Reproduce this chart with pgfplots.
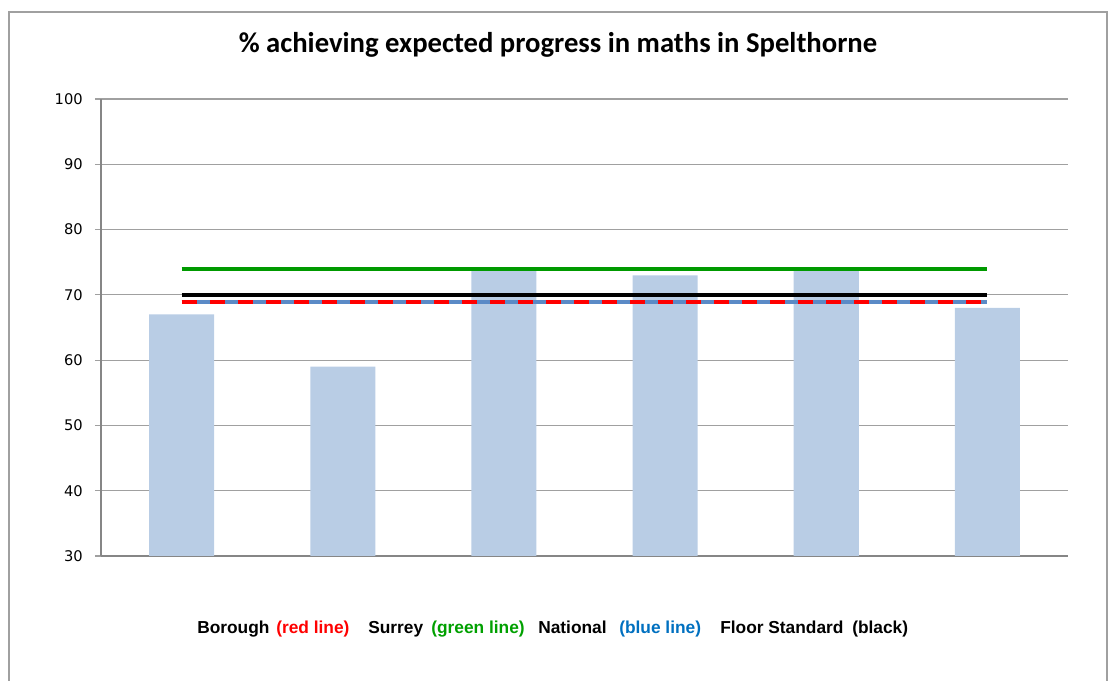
\documentclass[border=0pt]{standalone}
\usepackage{pgfplots}
\pgfplotsset{compat=1.18}
\usepackage{fontspec}
\setmainfont{Liberation Sans}
\newfontfamily\titlefont{Carlito}
\newfontfamily\tickfont{DejaVu Sans}
\definecolor{barblue}{HTML}{B9CDE5}
\definecolor{xlgreen}{HTML}{009A00}
\definecolor{xlblue}{HTML}{5B8AC6}
\definecolor{xlred}{HTML}{FF0000}
\definecolor{legblue}{HTML}{0070C0}
\definecolor{leggreen}{HTML}{00A000}
\definecolor{gridgray}{HTML}{A0A0A0}
\definecolor{axgray}{HTML}{868686}
\begin{document}
\begin{tikzpicture}
\useasboundingbox (0,0) rectangle (831pt,510.75pt);
\draw[gridgray, line width=1.2pt] (6.75pt,0) -- (6.75pt,501.75pt) -- (830.25pt,501.75pt) -- (830.25pt,0);
\begin{axis}[
  at={(75.75pt,93.75pt)}, anchor=south west,
  scale only axis,
  width=725.25pt, height=342.75pt,
  xmin=0.5, xmax=6.5,
  ymin=30, ymax=100,
  ytick={30,40,...,100},
  xtick=\empty,
  axis x line*=bottom, axis y line*=left,
  axis line style={axgray, line width=1.2pt},
  ymajorgrids,
  major grid style={gridgray, line width=0.9pt},
  tick align=outside,
  major tick length=4.5pt,
  ytick style={gridgray, line width=0.9pt},
  /pgf/number format/assume math mode=true,
  yticklabel style={font=\tickfont\fontsize{11}{12}\selectfont, anchor=east, inner sep=0pt, xshift=-9pt},
  clip=false,
]
\addplot[ybar, bar width=48.75pt, fill=barblue, draw=none] coordinates {(1,67) (2,59) (3,74) (4,73) (5,74) (6,68)};
\addplot[xlgreen, line width=3pt] coordinates {(1,74) (2,74) (3,74) (4,74) (5,74) (6,74)};
\addplot[black, line width=3pt] coordinates {(1,70) (2,70) (3,70) (4,70) (5,70) (6,70)};
\addplot[xlblue, line width=2.4pt] coordinates {(1,68.9) (2,68.9) (3,68.9) (4,68.9) (5,68.9) (6,68.9)};
\addplot[xlred, line width=2.4pt, dash pattern=on 11.25pt off 9.75pt] coordinates {(1,68.9) (2,68.9) (3,68.9) (4,68.9) (5,68.9) (6,68.9)};
\end{axis}
\node[font=\titlefont\bfseries\fontsize{21.5}{25}\selectfont] at (418.5pt,477pt) {\% achieving expected progress in maths in Spelthorne};
\begin{scope}[every node/.style={anchor=base west, inner sep=0pt, font=\bfseries\fontsize{13}{15}\selectfont}]
\node at (147.75pt,35.5pt) {Borough};
\node[text=xlred] at (207pt,35.5pt) {(red line)};
\node at (276pt,35.5pt) {Surrey};
\node[text=leggreen] at (323.25pt,35.5pt) {(green line)};
\node at (403.5pt,35.5pt) {National};
\node[text=legblue] at (464.25pt,35.5pt) {(blue line)};
\node at (540pt,35.5pt) {Floor Standard};
\node at (639pt,35.5pt) {(black)};
\end{scope}
\end{tikzpicture}
\end{document}
